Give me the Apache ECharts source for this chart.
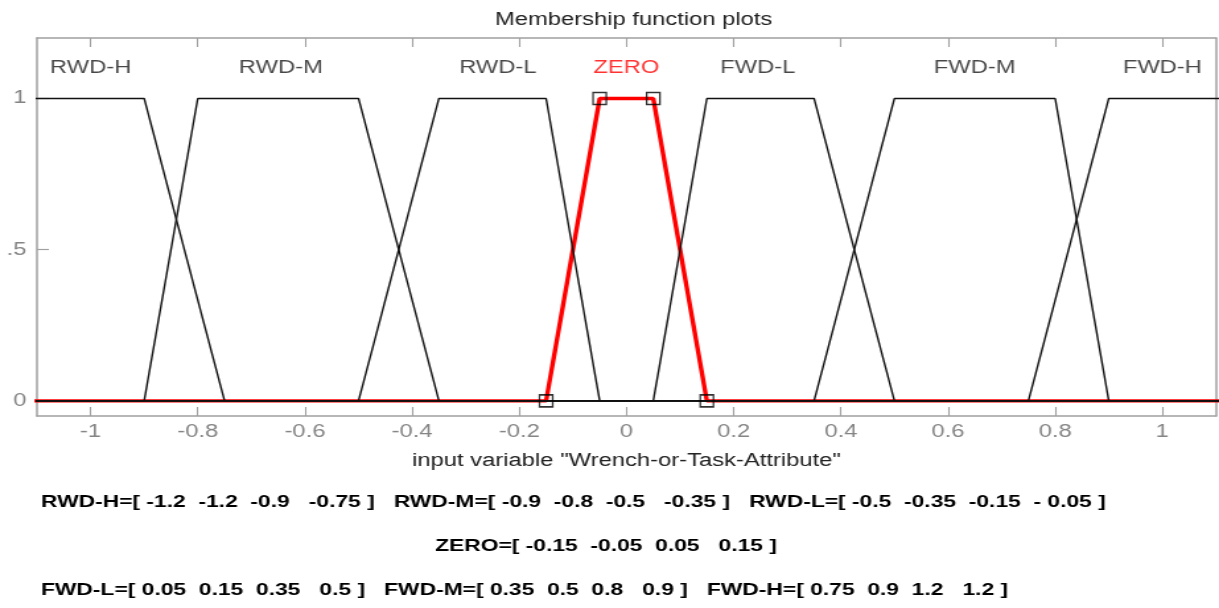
<!DOCTYPE html>
<html>
<head>
<meta charset="utf-8">
<script src="https://cdn.jsdelivr.net/npm/echarts@6/dist/echarts.min.js"></script>
<style>
html,body{margin:0;padding:0;background:#fff;overflow:hidden;}
#wrap{width:1219px;height:608px;overflow:hidden;}
#chart{width:923px;height:608px;transform:scaleX(1.3207);transform-origin:0 0;}
</style>
</head>
<body>
<div id="wrap"><div id="chart"></div></div>
<script>
// Membership function names and trapezoid parameters [a, b, c, d]
var mfNames = ['RWD-H', 'RWD-M', 'RWD-L', 'ZERO', 'FWD-L', 'FWD-M', 'FWD-H'];
var mfParams = [
  [-1.2, -1.2, -0.9, -0.75],
  [-0.9, -0.8, -0.5, -0.35],
  [-0.5, -0.35, -0.15, -0.05],
  [-0.15, -0.05, 0.05, 0.15],
  [0.05, 0.15, 0.35, 0.5],
  [0.35, 0.5, 0.8, 0.9],
  [0.75, 0.9, 1.2, 1.2]
];
// label anchor positions (x in data units) for each MF name
var labelX = [-1.0, -0.645, -0.24, 0.0, 0.245, 0.65, 1.0];
var labelY = 1.1;
var selectedIndex = 3;
var xRange = [-1.1, 1.1];
var yRange = [-0.05, 1.2];
var xTicks = [-1, -0.8, -0.6, -0.4, -0.2, 0, 0.2, 0.4, 0.6, 0.8, 1];
var yTicks = [0, 0.5, 1];
var yTickLabels = ['0', '.5', '1'];
var titleText = 'Membership function plots';
var xAxisName = 'input variable "Wrench-or-Task-Attribute"';
var eqLine1 = 'RWD-H=[ -1.2  -1.2  -0.9   -0.75 ]   RWD-M=[ -0.9  -0.8  -0.5   -0.35 ]   RWD-L=[ -0.5  -0.35  -0.15  - 0.05 ]';
var eqLine2 = 'ZERO=[ -0.15  -0.05  0.05   0.15 ]';
var eqLine3 = 'FWD-L=[ 0.05  0.15  0.35   0.5 ]   FWD-M=[ 0.35  0.5  0.8   0.9 ]   FWD-H=[ 0.75  0.9  1.2   1.2 ]';

var chart = echarts.init(document.getElementById('chart'));
var axisGray = '#a0a0a0';
var labelGray = '#858585';
var FONT = 'Liberation Sans, Arial, sans-serif';

function trapPoints(p) {
  return [[-1.2, 0], [p[0], 0], [p[1], 1], [p[2], 1], [p[3], 0], [1.2, 0]];
}

var series = [];
mfParams.forEach(function (p, i) {
  var sel = i === selectedIndex;
  series.push({
    type: 'line',
    name: mfNames[i],
    data: trapPoints(p),
    symbol: 'none',
    clip: true,
    silent: true,
    z: sel ? 2 : 3,
    lineStyle: { color: sel ? '#ff0000' : '#111111', width: sel ? 3.4 : 1.4 },
    animation: false
  });
});
// vertex markers for selected MF
var sp = mfParams[selectedIndex];
series.push({
  type: 'scatter',
  data: [[sp[0], 0], [sp[1], 1], [sp[2], 1], [sp[3], 0]],
  symbol: 'rect',
  symbolSize: [10, 12],
  itemStyle: { color: 'rgba(0,0,0,0)', borderColor: '#000', borderWidth: 1.4 },
  z: 5,
  silent: true,
  animation: false
});
// MF name labels
series.push({
  type: 'scatter',
  data: labelX.map(function (x, i) {
    return {
      value: [x, labelY],
      label: { color: i === selectedIndex ? '#ff0000' : '#1a1a1a' }
    };
  }),
  symbolSize: 0,
  silent: true,
  z: 6,
  label: {
    show: true,
    position: 'inside',
    fontFamily: FONT,
    fontSize: 18,
    formatter: function (d) { return mfNames[d.dataIndex]; }
  },
  animation: false
});

var option = {
  animation: false,
  backgroundColor: '#ffffff',
  title: {
    text: titleText,
    left: 474.8,
    textAlign: 'center',
    top: 6,
    textStyle: { fontFamily: FONT, fontSize: 18, fontWeight: 'normal', color: '#222' }
  },
  grid: { left: 28, top: 38, right: 2.3, bottom: 192, containLabel: false },
  xAxis: [{
    type: 'value',
    min: xRange[0], max: xRange[1],
    position: 'bottom',
    axisLine: { show: true, onZero: false, lineStyle: { color: axisGray, width: 1.5 } },
    axisTick: { show: true, inside: true, length: 9, customValues: xTicks, lineStyle: { color: axisGray, width: 1.1 } },
    axisLabel: {
      customValues: xTicks, color: labelGray, fontFamily: FONT, fontSize: 18, margin: 7,
      formatter: function (v) { return String(Math.round(v * 10) / 10); }
    },
    splitLine: { show: false },
    name: xAxisName,
    nameLocation: 'middle',
    nameGap: 36,
    nameTextStyle: { fontFamily: FONT, fontSize: 18, color: '#222' }
  }, {
    type: 'value',
    min: xRange[0], max: xRange[1],
    position: 'top',
    axisLine: { show: true, onZero: false, lineStyle: { color: axisGray, width: 1.5 } },
    axisTick: { show: true, inside: true, length: 9, customValues: xTicks, lineStyle: { color: axisGray, width: 1.1 } },
    axisLabel: { show: false },
    splitLine: { show: false }
  }],
  yAxis: [{
    type: 'value',
    min: yRange[0], max: yRange[1],
    position: 'left',
    axisLine: { show: true, onZero: false, lineStyle: { color: axisGray, width: 1.5 } },
    axisTick: { show: true, inside: true, length: 9, customValues: yTicks, lineStyle: { color: axisGray, width: 1.2 } },
    axisLabel: {
      customValues: yTicks, color: labelGray, fontFamily: FONT, fontSize: 18, margin: 8,
      formatter: function (v) { return yTickLabels[yTicks.indexOf(Math.round(v * 10) / 10)]; }
    },
    splitLine: { show: false }
  }, {
    type: 'value',
    min: yRange[0], max: yRange[1],
    position: 'right',
    axisLine: { show: true, onZero: false, lineStyle: { color: axisGray, width: 1.5 } },
    axisTick: { show: false },
    axisLabel: { show: false },
    splitLine: { show: false }
  }],
  graphic: [
    { type: 'text', left: 31, top: 494, style: { text: eqLine1, font: 'bold 17.3px ' + FONT, fill: '#000' } },
    { type: 'text', left: 329.4, top: 537.5, style: { text: eqLine2, font: 'bold 17.3px ' + FONT, fill: '#000' } },
    { type: 'text', left: 31, top: 581.5, style: { text: eqLine3, font: 'bold 17.3px ' + FONT, fill: '#000' } }
  ],
  series: series
};
chart.setOption(option);
</script>
</body>
</html>
